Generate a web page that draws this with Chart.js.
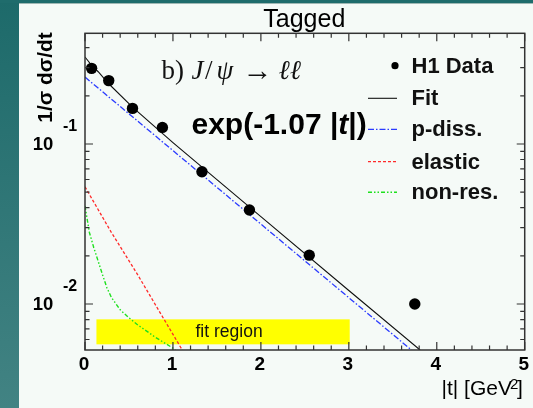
<!DOCTYPE html>
<html><head><meta charset="utf-8">
<script src="https://cdn.jsdelivr.net/npm/chart.js@4"></script>
<style>html,body{margin:0;padding:0;background:#f5faf7;overflow:hidden}canvas{display:block}</style>
</head><body><canvas id="c" width="533" height="408"></canvas>
<script>
// ---------- data ----------
const xTickLabels = ['0', '1', '2', '3', '4', '5'];
const yTickExponents = [-1, -2];

const dataT = [0.075, 0.27, 0.54, 0.88, 1.33, 1.87, 2.55, 3.75];
const dataV = [0.297, 0.249, 0.167, 0.127, 0.0671, 0.0387, 0.0202, 0.0100];

const fitT = [0, 0.075, 0.15, 0.27, 0.54, 1.0, 2.0, 3.0, 3.81];
const fitV = [0.350, 0.310, 0.283, 0.238, 0.170, 0.102, 0.0352, 0.01215, 0.00516];

const pDissT = [0, 3.8];
const pDissV = [0.262, 0.0047];

const elasticT = [0, 0.3, 0.6, 0.9, 1.15];
const elasticV = [0.054, 0.028, 0.0152, 0.0080, 0.0047];

const nonResT = [0, 0.05, 0.1, 0.15, 0.2, 0.25, 0.3, 0.4, 0.5, 0.6, 0.8, 1.0, 1.05];
const nonResV = [0.041, 0.028, 0.0225, 0.0185, 0.0152, 0.0126, 0.011, 0.0092, 0.0082, 0.0074, 0.0062, 0.0053, 0.0050];

const fitRegionT = [0.13, 3.01];
const fitRegionV = [0.0056, 0.00802];

const legendLabels = ['H1 Data', 'Fit', 'p-diss.', 'elastic', 'non-res.'];

// ---------- helpers ----------
const SANS = '"Liberation Sans", Arial, Helvetica, sans-serif';
const SERIF = '"Liberation Serif", "Times New Roman", "DejaVu Serif", serif';
function pts(xs, ys) { return xs.map((x, i) => ({ x: x, y: ys[i] })); }

const bgPlugin = {
  id: 'bg',
  beforeDraw(chart) {
    const ctx = chart.ctx;
    ctx.save();
    ctx.fillStyle = '#f5faf7';
    ctx.fillRect(0, 0, chart.width, chart.height);
    const g = ctx.createLinearGradient(0, 0, 0, chart.height);
    g.addColorStop(0, '#1d6a6a');
    g.addColorStop(1, '#428383');
    ctx.fillStyle = g;
    ctx.fillRect(0, 0, 19, chart.height);
    ctx.fillStyle = '#1f6c6c';
    ctx.fillRect(0, 0, chart.width, 3);
    ctx.fillStyle = '#9fb8b4';
    ctx.fillRect(19, 3, chart.width - 19, 1);
    ctx.restore();
  }
};

const regionPlugin = {
  id: 'region',
  beforeDatasetsDraw(chart) {
    const ctx = chart.ctx, xs = chart.scales.x, ys = chart.scales.y;
    const x0 = xs.getPixelForValue(fitRegionT[0]), x1 = xs.getPixelForValue(fitRegionT[1]);
    const y0 = ys.getPixelForValue(fitRegionV[1]), y1 = ys.getPixelForValue(fitRegionV[0]);
    ctx.save();
    ctx.fillStyle = '#ffff00';
    ctx.fillRect(x0, y0, x1 - x0, y1 - y0);
    ctx.fillStyle = '#111';
    ctx.font = '17.5px ' + SANS;
    ctx.textAlign = 'center';
    ctx.textBaseline = 'middle';
    ctx.fillText('fit region', (x0 + x1) / 2 + 6, (y0 + y1) / 2);
    ctx.restore();
  }
};

const decoPlugin = {
  id: 'deco',
  afterDraw(chart) {
    const ctx = chart.ctx, xs = chart.scales.x, ys = chart.scales.y;
    const a = chart.chartArea;
    ctx.save();
    // frame
    ctx.strokeStyle = '#333';
    ctx.lineWidth = 1.5;
    ctx.strokeRect(a.left, a.top, a.right - a.left, a.bottom - a.top);
    ctx.lineWidth = 1.2;
    ctx.beginPath();
    for (let i = 0; i <= 25; i++) {
      const v = i / 5, px = xs.getPixelForValue(v);
      const L = (i % 5 === 0) ? 8 : 4.5;
      ctx.moveTo(px, a.bottom); ctx.lineTo(px, a.bottom - L);
      ctx.moveTo(px, a.top); ctx.lineTo(px, a.top + L);
    }
    for (let d = -3; d <= 0; d++) {
      for (let m = 1; m <= 9; m++) {
        const v = m * Math.pow(10, d);
        if (v < ys.min || v > ys.max) continue;
        const py = ys.getPixelForValue(v);
        const L = (m === 1) ? 8 : 4.5;
        ctx.moveTo(a.left, py); ctx.lineTo(a.left + L, py);
        ctx.moveTo(a.right, py); ctx.lineTo(a.right - L, py);
      }
    }
    ctx.stroke();

    // y tick labels 10^n
    ctx.fillStyle = '#000';
    yTickExponents.forEach(e => {
      const py = ys.getPixelForValue(Math.pow(10, e));
      ctx.font = 'bold 18.5px ' + SANS;
      ctx.textAlign = 'center';
      ctx.textBaseline = 'middle';
      ctx.fillText('10', 43, py + 1);
      ctx.font = 'bold 16px ' + SANS;
      ctx.textAlign = 'left';
      ctx.fillText(String(e), 63, py - 17);
    });

    // y axis title
    ctx.save();
    ctx.translate(46.5, 77.5);
    ctx.rotate(-Math.PI / 2);
    ctx.font = 'bold 21px ' + SANS;
    ctx.textAlign = 'center';
    ctx.textBaseline = 'middle';
    ctx.fillText('1/\u03c3 d\u03c3/dt', 0, 0);
    ctx.restore();

    // x axis title
    ctx.font = '21px ' + SANS;
    ctx.textAlign = 'left';
    ctx.textBaseline = 'alphabetic';
    const base = '|t| [GeV';
    ctx.fillText(base, 441.5, 395);
    const w = ctx.measureText(base).width;
    ctx.font = '15px ' + SANS;
    ctx.fillText('2', 441.5 + w - 2, 389);
    ctx.font = '21px ' + SANS;
    ctx.fillText(']', 441.5 + w + 5, 395);

    // title
    ctx.font = '25px ' + SANS;
    ctx.textAlign = 'center';
    ctx.fillText('Tagged', 304.3, 26.5);
    ctx.restore();
  }
};

const annotPlugin = {
  id: 'annot',
  afterDatasetsDraw(chart) {
    const ctx = chart.ctx;
    const ds = chart.data.datasets;
    ctx.save();
    ctx.fillStyle = '#111';
    ctx.textBaseline = 'alphabetic';
    // b) J/psi -> ll
    ctx.textAlign = 'left';
    ctx.font = '27px ' + SERIF;
    ctx.fillText('b)', 161.5, 79);
    ctx.font = 'italic 27px ' + SERIF;
    ctx.fillText('J', 191.5, 79);
    ctx.font = '27px ' + SERIF;
    ctx.fillText('/', 205, 79);
    ctx.font = 'italic 27px ' + SERIF;
    ctx.fillText('\u03c8', 216.5, 79);
    ctx.font = '30px ' + SERIF;
    ctx.textAlign = 'center';
    ctx.fillText('\u2192', 257.5, 80);
    ctx.textAlign = 'left';
    ctx.font = 'italic 27px ' + SERIF;
    ctx.fillText('\u2113\u2113', 278.5, 79);

    // exp(-1.07 |t|)
    ctx.fillStyle = '#000';
    let x = 191.5;
    const parts = [['exp(-1.07 |', 'bold 30px '], ['t', 'italic bold 30px '], ['|)', 'bold 30px ']];
    parts.forEach(p => {
      ctx.font = p[1] + SANS;
      ctx.fillText(p[0], x, 134);
      x += ctx.measureText(p[0]).width;
    });

    // legend
    const rows = [65.7, 98.3, 129.3, 161.7, 192.3];
    ctx.font = 'bold 22px ' + SANS;
    ctx.textBaseline = 'middle';
    legendLabels.forEach((lab, i) => {
      const y = rows[i];
      const d = ds[i];
      if (i === 0) {
        ctx.beginPath();
        ctx.fillStyle = '#000';
        ctx.arc(395, y, 3.6, 0, Math.PI * 2);
        ctx.fill();
      } else {
        ctx.beginPath();
        ctx.strokeStyle = d.borderColor;
        ctx.lineWidth = d.borderWidth;
        ctx.setLineDash(d.borderDash || []);
        ctx.moveTo(368, y); ctx.lineTo(397, y);
        ctx.stroke();
        ctx.setLineDash([]);
      }
      ctx.fillStyle = '#111';
      ctx.fillText(lab, 411.5, y + 1);
    });
    ctx.restore();
  }
};

const lineDs = (label, xs, ys, color, dash, width) => ({
  label: label, data: pts(xs, ys), showLine: true, pointRadius: 0,
  borderColor: color, borderWidth: width, borderDash: dash, fill: false, tension: 0
});

new Chart(document.getElementById('c'), {
  type: 'scatter',
  data: {
    datasets: [
      { label: legendLabels[0], data: pts(dataT, dataV), pointRadius: 5.7, pointHoverRadius: 5.7,
        backgroundColor: '#000', borderColor: '#000', borderWidth: 0, showLine: false, order: 0 },
      Object.assign(lineDs(legendLabels[1], fitT, fitV, '#111', [], 1.1), { order: 1 }),
      Object.assign(lineDs(legendLabels[2], pDissT, pDissV, '#2b3bff', [6, 2, 1.5, 2], 1.3), { order: 2 }),
      Object.assign(lineDs(legendLabels[3], elasticT, elasticV, '#ff2a2a', [3, 2], 1.3), { order: 3 }),
      Object.assign(lineDs(legendLabels[4], nonResT, nonResV, '#1ee01e', [4, 2, 1.5, 2, 1.5, 2], 1.4), { order: 4 })
    ]
  },
  options: {
    responsive: false,
    animation: false,
    layout: { padding: { top: 33.3, right: 4.7, left: 0, bottom: 0 } },
    plugins: { legend: { display: false }, tooltip: { enabled: false } },
    scales: {
      x: {
        type: 'linear', min: 0, max: 5,
        grid: { display: false, drawTicks: false },
        border: { display: false },
        ticks: {
          stepSize: 1, padding: 3, color: '#000', labelOffset: -1,
          font: { family: SANS, size: 19, weight: 'bold' },
          callback: (v) => xTickLabels[Math.round(v)]
        },
        afterFit: (s) => { s.height = 58; }
      },
      y: {
        type: 'logarithmic', min: 0.00516, max: 0.492,
        grid: { display: false, drawTicks: false },
        border: { display: false },
        ticks: { display: false },
        afterFit: (s) => { s.width = 85; }
      }
    }
  },
  plugins: [bgPlugin, regionPlugin, annotPlugin, decoPlugin]
});
</script>
</body></html>
